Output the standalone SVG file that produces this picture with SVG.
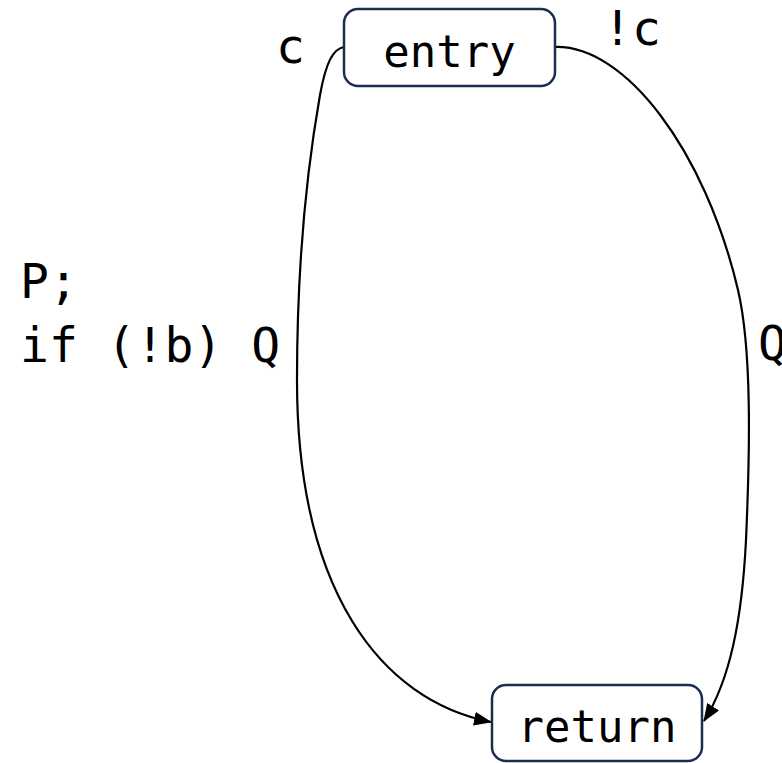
<svg xmlns="http://www.w3.org/2000/svg" width="782" height="763" viewBox="0 0 782 763">
<style>
.node rect{fill:#ffffff;stroke:#1c2e50;stroke-width:2.5}
.t{font-family:"DejaVu Sans Mono","Liberation Mono",monospace;font-size:44px;fill:#000}
.l{font-size:48px}
.edge{fill:none;stroke:#000;stroke-width:2.2}
</style>
<defs>
<marker id="arrow" markerWidth="18" markerHeight="14" refX="17" refY="7" orient="auto" markerUnits="userSpaceOnUse" viewBox="0 0 18 14">
<path d="M0,0 L18,7 L0,14 z" fill="#000"/>
</marker>
</defs>
<rect width="782" height="763" fill="#ffffff"/>
<g id="connectors">
<path class="edge" marker-end="url(#arrow)" d="M344,47 C333,49 326,62 320,95 C305,180 297,280 297,380 C297,590 380,700 491,722"/>
<path class="edge" marker-end="url(#arrow)" d="M555,47 C625,45 705,150 738,290 C752,350 750,450 746,540 C742,620 730,680 704,721"/>
</g>
<g id="entry" class="node">
<rect x="344" y="9" width="211" height="77" rx="14"/>
<text class="t" x="449.5" y="67" text-anchor="middle">entry</text>
</g>
<g id="return" class="node">
<rect x="492" y="685" width="210" height="76" rx="14"/>
<text class="t" x="597" y="742" text-anchor="middle">return</text>
</g>
<g id="labels">
<text class="t l" x="276" y="63">c</text>
<text class="t l" x="603" y="45">!c</text>
<text class="t l" x="20" y="298">P;</text>
<text class="t l" x="20" y="362">if (!b) Q</text>
<text class="t l" x="758" y="360">Q</text>
</g>
</svg>
